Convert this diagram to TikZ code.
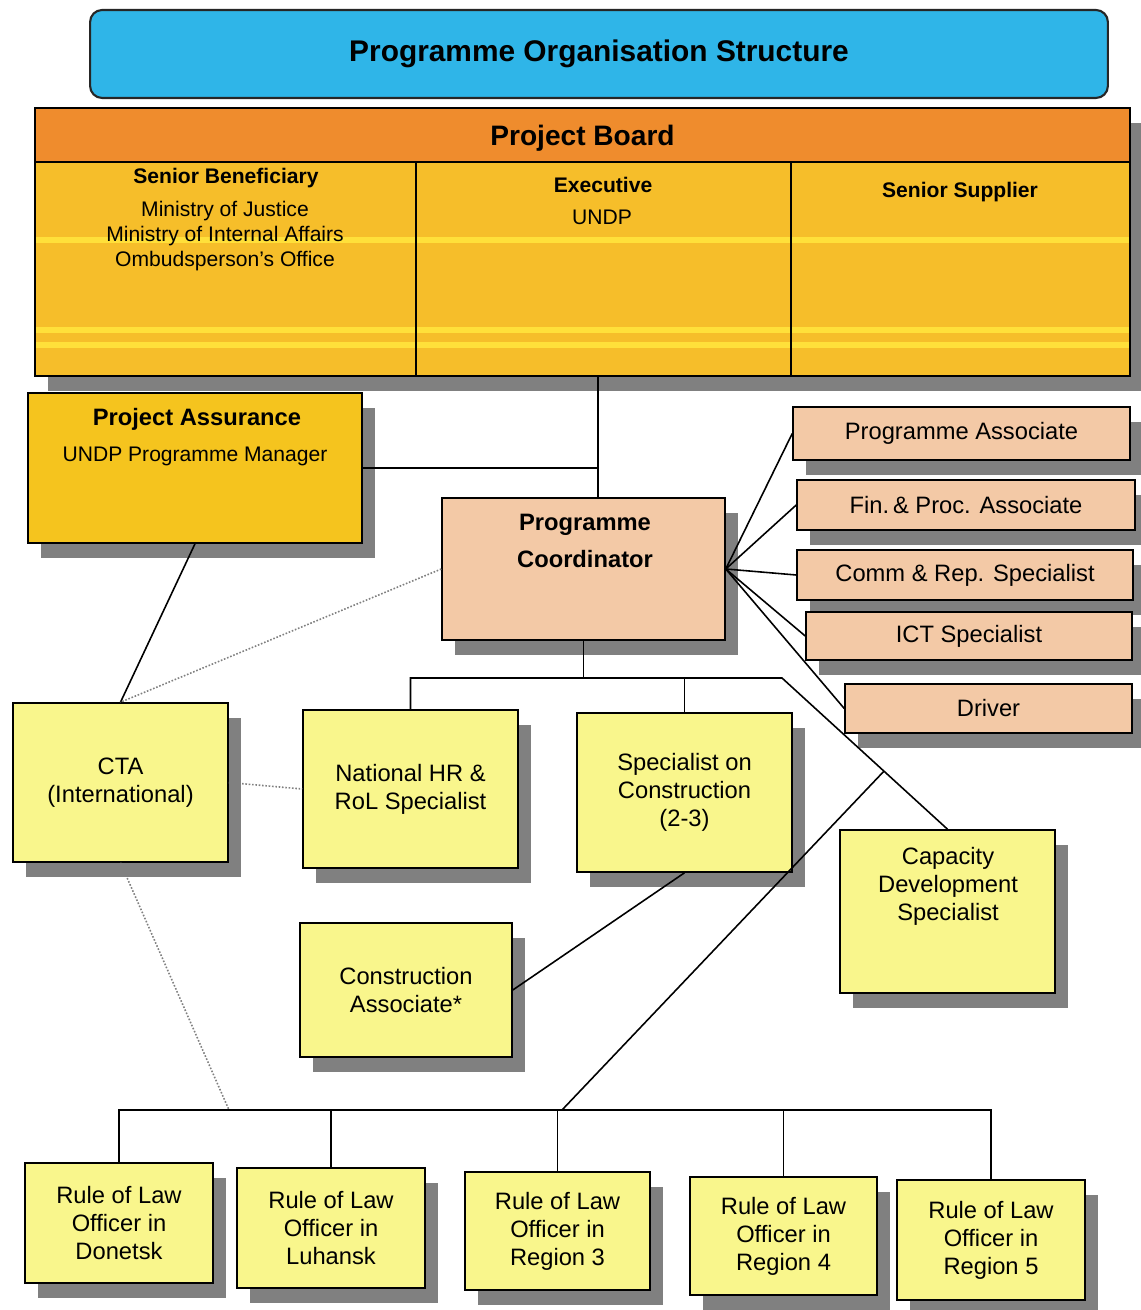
\documentclass[tikz,border=0pt]{standalone}
\usepackage{fontspec}
\setmainfont{Liberation Sans}
\usetikzlibrary{shadows,calc}
\definecolor{titleblue}{HTML}{2FB5E8}
\definecolor{boardorange}{HTML}{EF8C2D}
\definecolor{boardgold}{HTML}{F6BE2A}
\definecolor{stripe}{HTML}{FFE03A}
\definecolor{assgold}{HTML}{F5C41E}
\definecolor{peach}{HTML}{F3C9A6}
\definecolor{lightyellow}{HTML}{F9F68C}
\definecolor{shadowgray}{HTML}{808080}
\begin{document}
\begin{tikzpicture}[x=0.02cm,y=-0.02cm,
  shad/.style={drop shadow={opacity=1,fill=shadowgray,shadow xshift=0.26cm,shadow yshift=-0.3cm}},
  box/.style={draw=black,line width=0.9pt,inner sep=2pt,align=center,font=\fontsize{13.5}{15.9}\selectfont},
  ybox/.style={box,shad,fill=lightyellow},
  pbox/.style={box,shad,fill=peach},
  conn/.style={line width=0.9pt},
  dotconn/.style={line width=0.9pt,densely dotted,black!50},
  hd/.style={font=\bfseries\fontsize{12}{14}\selectfont},
  bd/.style={font=\fontsize{12}{14.2}\selectfont,align=center}]
\useasboundingbox (0,0) rectangle (1140,1310);
\fill[white] (0,0) rectangle (1140,1310);

% title
\node[draw=black!85,line width=1.2pt,fill=titleblue,rounded corners=0.24cm,
  minimum width=20.36cm,minimum height=1.76cm,
  font=\bfseries\fontsize{17}{20}\selectfont] (title) at (599,54) {Programme Organisation Structure};

% project board
\node[draw,line width=0.9pt,fill=boardorange,shad,minimum width=21.9cm,minimum height=1.08cm] (bheadbg) at (582.5,135) {};
\node[draw,line width=0.9pt,fill=boardgold,shad,minimum width=21.9cm,minimum height=4.28cm] (board) at (582.5,269) {};
\fill[stripe] (36,237) rectangle (1129,243);
\fill[stripe] (36,327) rectangle (1129,333);
\fill[stripe] (36,342) rectangle (1129,348);
\draw[line width=0.9pt] (35,162) rectangle (1130,376);
\draw[line width=0.9pt] (416,162) -- (416,376);
\draw[line width=0.9pt] (791,162) -- (791,376);
\node[font=\bfseries\fontsize{16}{19}\selectfont] (bhead) at (582.5,138) {Project Board};
\node[hd] (sbt) at (226,178) {Senior Beneficiary};
\node[bd] (sbb) at (225,236) {Ministry of Justice\\Ministry of Internal Affairs\\Ombudsperson's Office};
\node[hd] (exe) at (603,185) {Executive};
\node[bd] (undp) at (602,217) {UNDP};
\node[hd] (ss) at (960,192) {Senior Supplier};

% project assurance
\node[draw,line width=0.9pt,fill=assgold,shad,minimum width=6.68cm,minimum height=3cm] (pa) at (195,468) {};
\node[font=\bfseries\fontsize{13.5}{16}\selectfont] (pat) at (197,419) {Project Assurance};
\node[bd] (pab) at (195,456) {UNDP Programme Manager};

% programme coordinator
\node[pbox,minimum width=5.66cm,minimum height=2.84cm] (pc) at (583.5,569) {};
\node[font=\bfseries\fontsize{13.5}{21}\selectfont,align=center] (pct) at (585,541) {Programme\\Coordinator};

% support staff
\node[pbox,minimum width=6.74cm,minimum height=1.06cm] (passoc) at (961.5,433.5) {Programme Associate};
\node[pbox,minimum width=6.76cm,minimum height=1.0cm] (fin) at (966,505) {Fin.\,\& Proc. Associate};
\node[pbox,minimum width=6.72cm,minimum height=1.0cm] (comm) at (965,575) {Comm \& Rep. Specialist};
\node[pbox,minimum width=6.52cm,minimum height=0.96cm] (ict) at (969,636) {ICT Specialist};
\node[pbox,minimum width=5.74cm,minimum height=0.98cm] (driver) at (988.5,708.5) {Driver};

% specialists
\node[ybox,minimum width=4.3cm,minimum height=3.18cm] (cta) at (120.5,782.5) {CTA\\(International)};
\node[ybox,minimum width=4.3cm,minimum height=3.16cm] (nathr) at (410.5,789) {National HR \&\\RoL Specialist};
\node[ybox,minimum width=4.3cm,minimum height=3.18cm] (speccon) at (684.5,792.5) {Specialist on\\Construction\\(2-3)};
\node[ybox,minimum width=4.3cm,minimum height=3.26cm] (capdev) at (947.5,911.5) {};
\node[box,draw=none,fill=none] (capdevt) at (948,886) {Capacity\\Development\\Specialist};
\node[ybox,minimum width=4.24cm,minimum height=2.68cm] (conassoc) at (406,990) {Construction\\Associate*};

% rule of law officers
\node[ybox,minimum width=3.76cm,minimum height=2.4cm] (rol1) at (119,1223) {Rule of Law\\Officer in\\Donetsk};
\node[ybox,minimum width=3.76cm,minimum height=2.4cm] (rol2) at (331,1228) {Rule of Law\\Officer in\\Luhansk};
\node[ybox,minimum width=3.7cm,minimum height=2.36cm] (rol3) at (557.5,1231) {Rule of Law\\Officer in\\Region 3};
\node[ybox,minimum width=3.74cm,minimum height=2.36cm] (rol4) at (783.5,1236) {Rule of Law\\Officer in\\Region 4};
\node[ybox,minimum width=3.76cm,minimum height=2.4cm] (rol5) at (991,1240) {Rule of Law\\Officer in\\Region 5};

% helper coordinates
\coordinate (vx) at (598,0);
\coordinate (jr) at (782,678);
\coordinate (rb) at (562,1110);
\coordinate (dotend) at (229,1110);
\coordinate (cj) at ($(jr)!0.616!(capdev.north)$);

% connectors
\draw[conn] (board.south -| vx) -- (pc.north -| vx);
\draw[conn] (pa.east) -- (pa.east -| vx);
\draw[conn] (pc.east) -- (passoc.west);
\draw[conn] (pc.east) -- (fin.west);
\draw[conn] (pc.east) -- (comm.west);
\draw[conn] (pc.east) -- (ict.west);
\draw[conn] (pc.east) -- (driver.west);
\draw[conn] (pc.south) -- (pc.south |- jr);
\draw[conn] (nathr.north) -- (nathr.north |- jr) -- (jr) -- (capdev.north);
\draw[conn] (speccon.north) -- (speccon.north |- jr);
\draw[conn] (speccon.south) -- (conassoc.east);
\draw[conn] (cj) -- (rb);
\draw[conn] (pa.south) -- (cta.north);
\draw[conn] (rol1.north) -- (rol1.north |- rb) -- (rol5.north |- rb) -- (rol5.north);
\draw[conn] (rol2.north) -- (rol2.north |- rb);
\draw[conn] (rol3.north) -- (rol3.north |- rb);
\draw[conn] (rol4.north) -- (rol4.north |- rb);
\draw[dotconn] (pc.west) -- (cta.north);
\draw[dotconn] (cta.east) -- (nathr.west);
\draw[dotconn] (cta.south) -- (dotend);
\end{tikzpicture}
\end{document}
